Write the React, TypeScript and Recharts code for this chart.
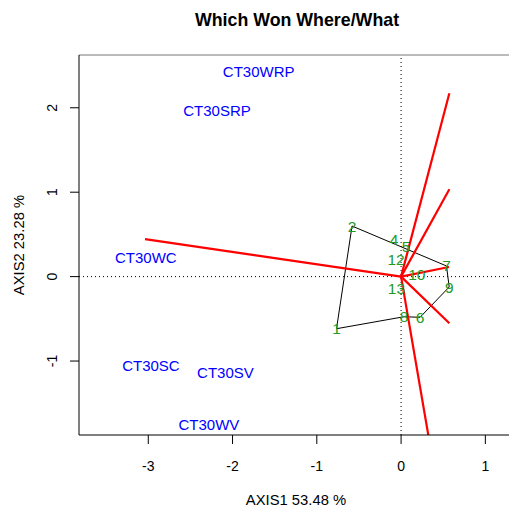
import React from 'react';
import { ComposedChart, XAxis, YAxis, Line, Scatter, ReferenceLine } from 'recharts';

const genoLabels = ['1', '2', '4', '5', '6', '7', '8', '9', '10', '12', '13'];
const genoX = [-0.766, -0.582, -0.084, 0.059, 0.225, 0.539, 0.035, 0.571, 0.186, -0.06, -0.055];
const genoY = [-0.617, 0.599, 0.442, 0.362, -0.482, 0.126, -0.475, -0.123, 0.031, 0.197, -0.14];

const envLabels = ['CT30WRP', 'CT30SRP', 'CT30WC', 'CT30SC', 'CT30SV', 'CT30WV'];
const envX = [-1.69, -2.184, -3.029, -2.968, -2.084, -2.28];
const envY = [2.432, 1.972, 0.226, -1.058, -1.13, -1.746];

const hullOrder = ['1', '2', '7', '9', '6', '8', '1'];

const rayEndX = [0.573, 0.573, -3.039, 0.569, 0.573, 0.323];
const rayEndY = [2.171, 1.034, 0.445, 0.114, -0.553, -1.876];

const xTicks = [-3, -2, -1, 0, 1];
const yTicks = [-1, 0, 1, 2];
const xDomain = [-3.822, 1.34];
const yDomain = [-1.876, 2.625];

const genoData = genoLabels.map((label, i) => ({ label, x: genoX[i], y: genoY[i] }));
const envData = envLabels.map((label, i) => ({ label, x: envX[i], y: envY[i] }));
const hullData = hullOrder.map((l) => {
  const i = genoLabels.indexOf(l);
  return { x: genoX[i], y: genoY[i] };
});
const rays = rayEndX.map((ex, i) => [
  { x: 0, y: 0 },
  { x: ex, y: rayEndY[i] },
]);

const FONT = '"Liberation Sans", Arial, Helvetica, sans-serif';

const XTick = (p: any) => (
  <text x={p.x} y={466} textAnchor="middle" dominantBaseline="central" fontSize={14} fontFamily={FONT} fill="#000">
    {p.payload.value}
  </text>
);

const YTick = (p: any) => (
  <text
    x={52}
    y={p.y}
    transform={`rotate(-90, 52, ${p.y})`}
    textAnchor="middle"
    dominantBaseline="central"
    fontSize={14}
    fontFamily={FONT}
    fill="#000"
  >
    {p.payload.value}
  </text>
);

const makeLabelShape = (color: string, size: number) => (p: any) => (
  <text
    x={p.cx}
    y={p.cy}
    textAnchor="middle"
    dominantBaseline="central"
    fontSize={size}
    fontFamily={FONT}
    fill={color}
  >
    {p.payload.label}
  </text>
);

export default function App() {
  return (
    <div style={{ position: 'absolute', left: 0, top: 0, width: 509, height: 508, overflow: 'hidden', background: '#fff' }}>
      <div
        style={{
          position: 'absolute',
          left: 0,
          top: 9,
          width: 594,
          textAlign: 'center',
          fontFamily: FONT,
          fontWeight: 'bold',
          fontSize: 17.8,
          lineHeight: '22px',
        }}
      >
        Which Won Where/What
      </div>
      <div
        style={{
          position: 'absolute',
          left: 0,
          top: 489,
          width: 592,
          textAlign: 'center',
          fontFamily: FONT,
          fontSize: 14.8,
          lineHeight: '22px',
        }}
      >
        AXIS1 53.48 %
      </div>
      <div
        style={{
          position: 'absolute',
          left: 18.5 - 100,
          top: 245 - 11,
          width: 200,
          height: 22,
          textAlign: 'center',
          fontFamily: FONT,
          fontSize: 14.8,
          lineHeight: '22px',
          transform: 'rotate(-90deg)',
        }}
      >
        AXIS2 23.28 %
      </div>
      <ComposedChart
        width={514}
        height={508}
        margin={{ top: 55, right: 0, bottom: 0, left: 0 }}
        style={{ position: 'absolute', left: 0, top: 0 }}
      >
        <XAxis
          type="number"
          dataKey="x"
          domain={xDomain}
          allowDataOverflow
          ticks={xTicks}
          tick={<XTick />}
          tickSize={9}
          height={73}
          axisLine={{ stroke: '#000' }}
          tickLine={{ stroke: '#000' }}
          interval={0}
        />
        <YAxis
          type="number"
          dataKey="y"
          domain={yDomain}
          allowDataOverflow
          ticks={yTicks}
          tick={<YTick />}
          tickSize={9}
          width={79}
          axisLine={{ stroke: '#000' }}
          tickLine={{ stroke: '#000' }}
          interval={0}
        />
        <ReferenceLine y={yDomain[1]} stroke="#777" strokeWidth={1} />
        <ReferenceLine x={0} stroke="#000" strokeDasharray="1 3" />
        <ReferenceLine y={0} stroke="#000" strokeDasharray="1 3" />
        <Scatter data={envData} shape={makeLabelShape('#0000FF', 15)} isAnimationActive={false} />
        <Scatter data={genoData} shape={makeLabelShape('#229A22', 15.5)} isAnimationActive={false} />
        <Line
          data={hullData}
          dataKey="y"
          stroke="#000"
          strokeWidth={1}
          dot={false}
          activeDot={false}
          isAnimationActive={false}
          type="linear"
        />
        {rays.map((r, i) => (
          <Line
            key={i}
            data={r}
            dataKey="y"
            stroke="#FF0000"
            strokeWidth={2.2}
            dot={false}
            activeDot={false}
            isAnimationActive={false}
            type="linear"
          />
        ))}
      </ComposedChart>
    </div>
  );
}
